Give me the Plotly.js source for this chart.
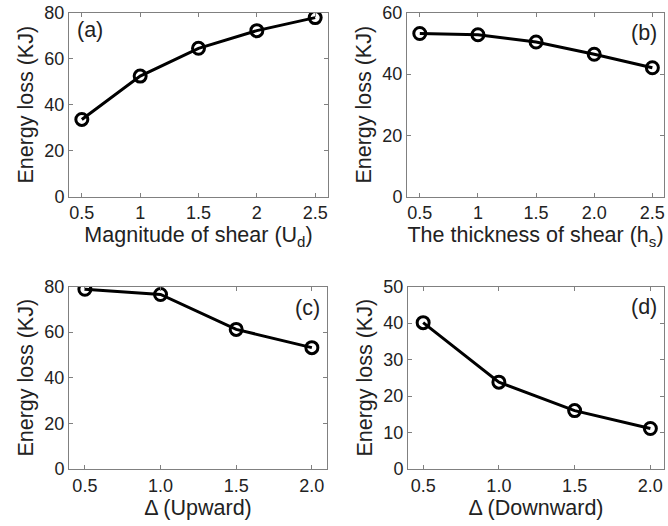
<!DOCTYPE html>
<html>
<head>
<meta charset="utf-8">
<script src="https://cdn.plot.ly/plotly-3.0.1.min.js"></script>
<style>html,body{margin:0;padding:0;background:#fff;}#chart{width:668px;height:526px;}</style>
</head>
<body>
<div id="chart"></div>
<script>
// Data
const xA = [0.5, 1.0, 1.5, 2.0, 2.5];
const yA = [33.6, 52.5, 64.6, 72.3, 78.0];
const xB = [0.5, 1.0, 1.5, 2.0, 2.5];
const yB = [53.3, 52.9, 50.5, 46.5, 42.1];
const xC = [0.5, 1.0, 1.5, 2.0];
const yC = [78.8, 76.5, 61.2, 53.2];
const xD = [0.5, 1.0, 1.5, 2.0];
const yD = [40.1, 23.8, 16.0, 11.1];

const tickTextA = ["0.5", "1", "1.5", "2", "2.5"];
const tickTextB = ["0.5", "1", "1.5", "2.0", "2.5"];
const tickTextC = ["0.5", "1.0", "1.5", "2.0"];
const tickTextD = ["0.5", "1.0", "1.5", "2.0"];

const xTitles = ["Magnitude of shear (U<sub>d</sub>)", "The thickness of shear (h<sub>s</sub>)", "\u0394 (Upward)", "\u0394 (Downward)"];
const yTitle = "Energy loss (KJ)";
const panelLabels = ["(a)", "(b)", "(c)", "(d)"];

const FONT = "Liberation Sans, Arial, sans-serif";
const W = 668, H = 526;

function trace(x, y, xa, ya) {
  return {
    x: x, y: y, xaxis: xa, yaxis: ya, type: 'scatter', mode: 'lines+markers',
    line: {color: '#000', width: 3},
    marker: {symbol: 'circle-open', size: 12, color: '#000', line: {width: 3, color: '#000'}},
    showlegend: false, hoverinfo: 'x+y'
  };
}

const data = [
  trace(xA, yA, 'x', 'y'),
  trace(xB, yB, 'x2', 'y2'),
  trace(xC, yC, 'x3', 'y3'),
  trace(xD, yD, 'x4', 'y4')
];

function xaxis(dom, range, ticktext, tickvals, title, anchor) {
  return {
    domain: dom, range: range, anchor: anchor,
    tickmode: 'array', tickvals: tickvals, ticktext: ticktext,
    ticks: 'inside', ticklen: 4, tickcolor: '#808080', tickwidth: 1,
    showline: true, linecolor: '#808080', linewidth: 1, mirror: 'allticks',
    showgrid: false, zeroline: false,
    tickfont: {family: FONT, size: 18, color: '#222'},
    title: {text: title, font: {family: FONT, size: 21.5, color: '#222'}, standoff: 2},
    automargin: false
  };
}
function yaxis(dom, range, dtick, anchor) {
  return {
    domain: dom, range: range, anchor: anchor, dtick: dtick, tick0: 0,
    ticks: 'inside', ticklen: 4, tickcolor: '#808080', tickwidth: 1,
    showline: true, linecolor: '#808080', linewidth: 1, mirror: 'allticks',
    showgrid: false, zeroline: false,
    tickfont: {family: FONT, size: 18, color: '#222'},
    title: {text: yTitle, font: {family: FONT, size: 21.5, color: '#222'}, standoff: 4},
    automargin: false
  };
}

const domTop = [1 - 196.5 / H, 1 - 13 / H];
const domBot = [1 - 469 / H, 1 - 286.5 / H];

const layout = {
  width: W, height: H,
  margin: {l: 0, r: 0, t: 0, b: 0},
  paper_bgcolor: '#fff', plot_bgcolor: '#fff',
  font: {family: FONT, color: '#222'},
  xaxis:  xaxis([69 / W, 328 / W], [0.39, 2.61], tickTextA, xA, xTitles[0], 'y'),
  yaxis:  yaxis(domTop, [0, 80], 20, 'x'),
  xaxis2: xaxis([407 / W, 664 / W], [0.39, 2.6], tickTextB, xB, xTitles[1], 'y2'),
  yaxis2: yaxis(domTop, [0, 60], 20, 'x2'),
  xaxis3: xaxis([69 / W, 327 / W], [0.395, 2.1], tickTextC, xC, xTitles[2], 'y3'),
  yaxis3: yaxis(domBot, [0, 80], 20, 'x3'),
  xaxis4: xaxis([408 / W, 664 / W], [0.4, 2.09], tickTextD, xD, xTitles[3], 'y4'),
  yaxis4: yaxis(domBot, [0, 50], 10, 'x4'),
  annotations: [
    {text: panelLabels[0], xref: 'x domain', yref: 'y domain', x: 0.025, y: 0.91, xanchor: 'left', yanchor: 'middle', showarrow: false, font: {family: FONT, size: 21.5, color: '#222'}},
    {text: panelLabels[1], xref: 'x2 domain', yref: 'y2 domain', x: 0.98, y: 0.89, xanchor: 'right', yanchor: 'middle', showarrow: false, font: {family: FONT, size: 21.5, color: '#222'}},
    {text: panelLabels[2], xref: 'x3 domain', yref: 'y3 domain', x: 0.98, y: 0.88, xanchor: 'right', yanchor: 'middle', showarrow: false, font: {family: FONT, size: 21.5, color: '#222'}},
    {text: panelLabels[3], xref: 'x4 domain', yref: 'y4 domain', x: 0.98, y: 0.89, xanchor: 'right', yanchor: 'middle', showarrow: false, font: {family: FONT, size: 21.5, color: '#222'}}
  ]
};

Plotly.newPlot('chart', data, layout, {staticPlot: true, displayModeBar: false});
</script>
</body>
</html>
